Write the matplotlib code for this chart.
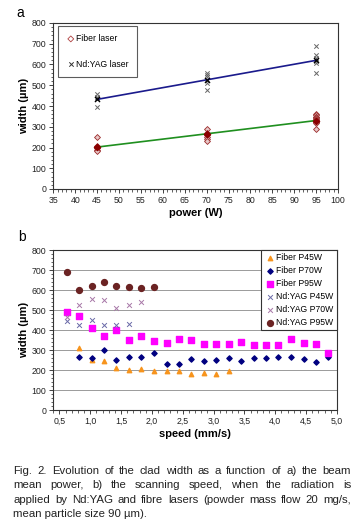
import matplotlib
matplotlib.use("Agg")
import matplotlib.pyplot as plt
import numpy as np
from matplotlib.ticker import MultipleLocator

plt.rcParams['font.family'] = ['Liberation Sans', 'DejaVu Sans']

# ---------- panel a data ----------
powers = [45, 70, 95]
nd_45 = [456, 445, 440, 432, 394]
nd_70 = [560, 549, 538, 525, 512, 477]
nd_95 = [690, 645, 629, 619, 605, 557]
fiber_45 = [253, 208, 202, 197, 189, 181]
fiber_70 = [290, 269, 261, 253, 240, 229]
fiber_95 = [360, 355, 349, 345, 341, 337, 333, 329, 325, 317, 288]
nd_fit = [432, 526, 620]
fiber_fit = [202, 266, 330]

# ---------- panel b data ----------
speed = [0.62, 0.82, 1.02, 1.22, 1.42, 1.63, 1.83, 2.03, 2.24, 2.44, 2.64,
         2.84, 3.04, 3.25, 3.45, 3.65, 3.85, 4.05, 4.25, 4.46, 4.66, 4.86]
fiber_p45 = [313, 252, 247, 210, 202, 207, 198, 198, 197, 182, 188, 182, 198]
fiber_p70 = [265, 260, 302, 253, 268, 267, 285, 232, 230, 257, 247, 253, 262,
             245, 263, 262, 268, 265, 258, 242, 265]
fiber_p95 = [490, 472, 412, 372, 402, 353, 372, 348, 335, 357, 353, 333, 332,
             332, 343, 325, 328, 328, 358, 337, 332, 288]
nd_p45 = [447, 428, 452, 425, 428, 432]
nd_p70 = [465, 525, 557, 552, 513, 525, 538]
nd_p95 = [690, 600, 620, 638, 620, 617, 608, 613]

caption_lines = [
    "Fig. 2. Evolution of the clad width as a function of a) the beam",
    "mean power, b) the scanning speed, when the radiation is",
    "applied by Nd:YAG and fibre lasers (powder mass flow 20 mg/s,",
    "mean particle size 90 \u00b5m).",
]

W, H = 357, 523
fig = plt.figure(figsize=(W / 100, H / 100), dpi=100)

def style_axes(ax):
    for s in ax.spines.values():
        s.set_color('#333333')
        s.set_linewidth(0.8)
    ax.tick_params(axis='both', which='major', direction='out', length=3,
                   width=0.6, labelsize=6.3, colors='#222222', pad=2)
    ax.tick_params(axis='both', which='minor', direction='out', length=1.8,
                   width=0.5, colors='#222222')

# ---------- panel a ----------
ax1 = fig.add_axes([53.3 / W, 1 - 189 / H, (338 - 53.3) / W, (189 - 23) / H])
style_axes(ax1)
for p, vals in zip(powers, [nd_45, nd_70, nd_95]):
    ax1.scatter([p] * len(vals), vals, marker='x', s=10, c='#666666',
                linewidths=0.7, zorder=3)
for p, vals in zip(powers, [fiber_45, fiber_70, fiber_95]):
    ax1.scatter([p] * len(vals), vals, marker='D', s=9, facecolors='#e8c8c8',
                edgecolors='#9c2b2b', linewidths=0.6, zorder=3)
ax1.plot(powers, nd_fit, color='#1a1a8c', lw=1.2, zorder=4)
ax1.plot(powers, fiber_fit, color='#1f8f1f', lw=1.2, zorder=4)
ax1.scatter(powers, nd_fit, marker='x', s=14, c='black', linewidths=0.9, zorder=5)
ax1.scatter(powers, fiber_fit, marker='D', s=10, c='#8b0000', zorder=5)
ax1.set_xlim(35, 100)
ax1.set_ylim(0, 800)
ax1.xaxis.set_major_locator(MultipleLocator(5))
ax1.xaxis.set_minor_locator(MultipleLocator(1))
ax1.yaxis.set_major_locator(MultipleLocator(100))
ax1.yaxis.set_minor_locator(MultipleLocator(20))
ax1.set_xlabel('power (W)', fontsize=8, fontweight='bold', labelpad=2)
ax1.set_ylabel('width (\u00b5m)', fontsize=8, fontweight='bold', labelpad=2)
h1 = ax1.scatter([], [], marker='D', s=9, facecolors='none',
                 edgecolors='#b04040', linewidths=0.6)
h2 = ax1.scatter([], [], marker='x', s=10, c='#333333', linewidths=0.7)
leg1 = ax1.legend([h1, h2], ['Fiber laser', 'Nd:YAG laser'], loc='upper left',
                  bbox_to_anchor=(0.01, 0.995), fontsize=6.2, frameon=True,
                  fancybox=False, edgecolor='#333333', handletextpad=0.1,
                  labelspacing=1.9, borderpad=1.0, handlelength=1.0,
                  borderaxespad=0.2)
leg1.get_frame().set_linewidth(0.8)
fig.text(20 / W, 1 - 13 / H, 'a', fontsize=10, ha='center', va='center')

# ---------- panel b ----------
ax2 = fig.add_axes([53.3 / W, 1 - 410.3 / H, (337 - 53.3) / W, (410.3 - 250) / H])
style_axes(ax2)
ax2.set_axisbelow(True)
ax2.grid(axis='y', color='#9a9a9a', lw=0.7)
ax2.scatter(speed[1:1 + len(fiber_p45)], fiber_p45, marker='^', s=10,
            c='#f7941d', label='Fiber P45W', zorder=3)
ax2.scatter(speed[1:1 + len(fiber_p70)], fiber_p70, marker='D', s=7,
            c='#000080', label='Fiber P70W', zorder=3)
ax2.scatter(speed[:len(fiber_p95)], fiber_p95, marker='s', s=14,
            c='#ff00ff', label='Fiber P95W', zorder=3)
ax2.scatter(speed[:len(nd_p45)], nd_p45, marker='x', s=12,
            c='#6a6aa8', linewidths=0.7, label='Nd:YAG P45W', zorder=3)
ax2.scatter(speed[:len(nd_p70)], nd_p70, marker='x', s=12,
            c='#a878a8', linewidths=0.7, label='Nd:YAG P70W', zorder=3)
ax2.scatter(speed[:len(nd_p95)], nd_p95, marker='o', s=18,
            c='#6b2323', label='Nd:YAG P95W', zorder=3)
ax2.set_xlim(0.4, 5.0)
ax2.set_ylim(0, 800)
ax2.xaxis.set_major_locator(MultipleLocator(0.5))
ax2.xaxis.set_minor_locator(MultipleLocator(0.1))
ax2.yaxis.set_major_locator(MultipleLocator(100))
ax2.yaxis.set_minor_locator(MultipleLocator(20))
ax2.set_xticks(np.arange(0.5, 5.01, 0.5))
ax2.set_xticklabels([f"{v:.1f}".replace('.', ',') for v in np.arange(0.5, 5.01, 0.5)])
ax2.set_xlabel('speed (mm/s)', fontsize=8, fontweight='bold', labelpad=2)
ax2.set_ylabel('width (\u00b5m)', fontsize=8, fontweight='bold', labelpad=2)
leg2 = ax2.legend(loc='upper right', bbox_to_anchor=(1.0, 1.0), fontsize=6.2,
                  frameon=True, fancybox=False, edgecolor='#333333',
                  framealpha=1, handletextpad=0.1, labelspacing=0.45,
                  borderpad=0.4, handlelength=1.3, borderaxespad=0.0)
leg2.get_frame().set_linewidth(0.8)
fig.text(22 / W, 1 - 237 / H, 'b', fontsize=10, ha='center', va='center')

# ---------- caption (justified) ----------
fig.canvas.draw()
renderer = fig.canvas.get_renderer()
x_left, x_right = 13.5, 351
ys = [471, 485, 500, 514]
fs_cap = 8.2
for i, (line, yp) in enumerate(zip(caption_lines, ys)):
    words = line.split(' ')
    if i == len(caption_lines) - 1:
        fig.text(x_left / W, 1 - yp / H, line, fontsize=fs_cap, ha='left',
                 va='center', color='#222222')
        continue
    texts = []
    widths = []
    for w in words:
        t = fig.text(0, 1 - yp / H, w, fontsize=fs_cap, ha='left', va='center',
                     color='#222222')
        bb = t.get_window_extent(renderer)
        texts.append(t)
        widths.append(bb.width)
    gap = (x_right - x_left - sum(widths)) / (len(words) - 1)
    x = x_left
    for t, wd in zip(texts, widths):
        t.set_x(x / W)
        x += wd + gap

fig.savefig('out.png', dpi=100)
